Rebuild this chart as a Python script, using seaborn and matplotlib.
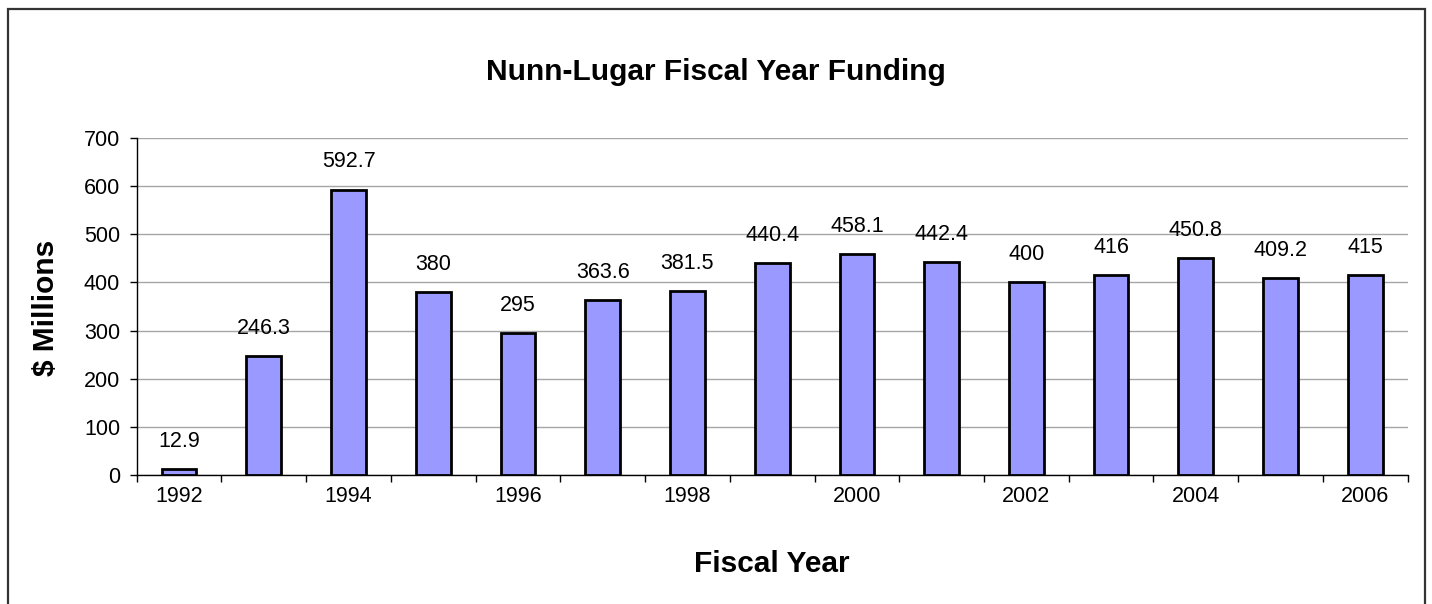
import numpy as np
import pandas as pd
import seaborn as sns
from matplotlib import pyplot as plt
from matplotlib.patches import Rectangle

sns.set_style('white')
plt.rcParams['font.family'] = ['Liberation Sans', 'DejaVu Sans']
plt.rcParams.update({'text.color': 'black', 'axes.labelcolor': 'black',
                     'xtick.color': 'black', 'ytick.color': 'black'})

years = [str(y) for y in range(1992, 2007)]
funding = [12.9, 246.3, 592.7, 380, 295, 363.6, 381.5, 440.4, 458.1,
           442.4, 400, 416, 450.8, 409.2, 415]

df = pd.DataFrame({'year': years, 'funding': funding})

fig = plt.figure(figsize=(14.32, 6.04), dpi=100)
ax = fig.add_axes([0.0955, 0.2136, 0.8875, 0.5579])

sns.barplot(data=df, x='year', y='funding', color='#9999FF', saturation=1,
            edgecolor='black', linewidth=2, width=0.41, ax=ax, zorder=3)

for x, v in enumerate(funding):
    ax.annotate(f'{v:g}', (x, v), xytext=(0, 16), textcoords='offset points',
                ha='center', va='baseline', fontsize=15.5, color='black')

ax.set_xlim(-0.5, len(years) - 0.5)
ax.set_ylim(0, 700)
ax.set_yticks(range(0, 701, 100))
ax.yaxis.grid(True, color='#A6A6A6', linewidth=1, zorder=0)
ax.set_axisbelow(True)

# labels only on every other year, ticks between categories
ax.set_xticks(range(0, len(years), 2), years[::2])
ax.set_xticks(np.arange(-0.5, len(years)), minor=True)
ax.tick_params(axis='x', which='major', length=0, pad=8, labelsize=15.5)
ax.tick_params(axis='x', which='minor', length=5, width=1, direction='out', bottom=True)
ax.tick_params(axis='y', length=5, width=1, direction='out', left=True, pad=7, labelsize=15.5)

for side in ['top', 'right']:
    ax.spines[side].set_visible(False)
for side in ['left', 'bottom']:
    ax.spines[side].set_color('black')
    ax.spines[side].set_linewidth(1)

ax.set_xlabel('')
ax.set_ylabel('')
fig.text(0.539, 0.053, 'Fiscal Year', ha='center', va='baseline',
         fontsize=21.5, fontweight='bold')
fig.text(0.032, 0.49, '$ Millions', ha='center', va='center', rotation=90,
         fontsize=21.5, fontweight='bold')
fig.text(0.5, 0.8675, 'Nunn-Lugar Fiscal Year Funding', ha='center', va='baseline',
         fontsize=21.5, fontweight='bold')

fig.patches.append(Rectangle((0.0056, -0.05), 0.9894, 1.035, transform=fig.transFigure,
                             fill=False, edgecolor='#333333', linewidth=1.6))

fig.savefig('out.png', dpi=100)
